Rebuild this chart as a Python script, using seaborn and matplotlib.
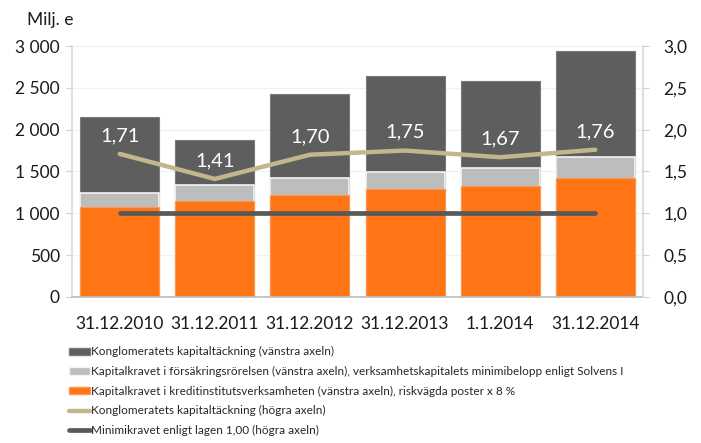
import matplotlib
matplotlib.use("Agg")
import matplotlib.pyplot as plt
import seaborn as sns
import numpy as np
import pandas as pd
from matplotlib.patches import Patch
from matplotlib.lines import Line2D

categories = ["31.12.2010", "31.12.2011", "31.12.2012", "31.12.2013", "1.1.2014", "31.12.2014"]
own_funds = [2150, 1880, 2430, 2640, 2580, 2940]          # Konglomeratets kapitaltäckning
insurance_req = [170, 185, 200, 210, 212, 250]            # Kapitalkravet i försäkringsrörelsen
credit_req = [1075, 1148, 1218, 1286, 1325, 1424]         # Kapitalkravet i kreditinstitutsverksamheten
ratio = [1.71, 1.41, 1.70, 1.75, 1.67, 1.76]
ratio_labels = ["1,71", "1,41", "1,70", "1,75", "1,67", "1,76"]
minimum = [1.0, 1.0, 1.0, 1.0, 1.0, 1.0]
left_ticks = [0, 500, 1000, 1500, 2000, 2500, 3000]
left_tick_labels = ["0", "500", "1 000", "1 500", "2 000", "2 500", "3 000"]
right_ticks = [0.0, 0.5, 1.0, 1.5, 2.0, 2.5, 3.0]
right_tick_labels = ["0,0", "0,5", "1,0", "1,5", "2,0", "2,5", "3,0"]
legend_labels = [
    "Konglomeratets kapitaltäckning (vänstra axeln)",
    "Kapitalkravet i försäkringsrörelsen (vänstra axeln), verksamhetskapitalets minimibelopp enligt Solvens I",
    "Kapitalkravet i kreditinstitutsverksamheten (vänstra axeln), riskvägda poster x 8 %",
    "Konglomeratets kapitaltäckning (högra axeln)",
    "Minimikravet enligt lagen 1,00 (högra axeln)",
]

sns.set_theme(style="white")
plt.rcParams["font.family"] = ["Lato", "DejaVu Sans"]

C_DARK = "#5E5E5E"
C_GREY = "#BDBDBD"
C_ORANGE = "#FF7415"
C_TAN = "#C4B58C"
C_MIN = "#595959"

df = pd.DataFrame({
    "cat": categories,
    "own": own_funds,
    "req_total": np.array(credit_req) + np.array(insurance_req),
    "credit": credit_req,
})

fig = plt.figure(figsize=(7.01, 4.43), dpi=100)
ax = fig.add_axes([0.103, 0.330, 0.814, 0.566])

w = 0.83
sns.barplot(data=df, x="cat", y="own", color=C_DARK, width=w, ax=ax,
            saturation=1, edgecolor="#7a7a7a", linewidth=0.8)
sns.barplot(data=df, x="cat", y="req_total", color=C_GREY, width=w, ax=ax,
            saturation=1, edgecolor="#f4f4f4", linewidth=1.2)
sns.barplot(data=df, x="cat", y="credit", color=C_ORANGE, width=w, ax=ax,
            saturation=1, edgecolor="#f89a55", linewidth=0.8)

ax.set_ylim(0, 3000)
ax.set_xlim(-0.5, len(categories) - 0.5)
ax.set_yticks(left_ticks)
ax.set_yticklabels(left_tick_labels, fontsize=12.5, color="#1a1a1a")
ax.set_xlabel("")
ax.set_ylabel("")
ax.tick_params(axis="x", labelsize=12.5, colors="#1a1a1a", length=0, pad=14)
ax.tick_params(axis="y", length=4, width=0.8, color="#cfcfcf", left=True, pad=5)
ax.yaxis.grid(True, color="#f0f0f0", linewidth=0.8)
ax.set_axisbelow(True)
for s in ["top", "right"]:
    ax.spines[s].set_visible(False)
ax.spines["left"].set_color("#d9d9d9")
ax.spines["bottom"].set_color("#bfbfbf")

ax2 = ax.twinx()
x = np.arange(len(categories))
sns.lineplot(x=x, y=ratio, ax=ax2, color=C_TAN, linewidth=3.2, sort=False)
sns.lineplot(x=x, y=minimum, ax=ax2, color=C_MIN, linewidth=3.4, sort=False,
             solid_capstyle="round")
ax2.set_ylim(0, 3.0)
ax2.set_xlim(-0.5, len(categories) - 0.5)
ax2.set_yticks(right_ticks)
ax2.set_yticklabels(right_tick_labels, fontsize=12.5, color="#1a1a1a")
ax2.tick_params(axis="y", length=4, width=0.8, color="#cfcfcf", right=True, pad=11)
ax2.grid(False)
for s in ["top", "left", "bottom"]:
    ax2.spines[s].set_visible(False)
ax2.spines["right"].set_color("#d9d9d9")

for xi, yi, lab in zip(x, ratio, ratio_labels):
    ax2.annotate(lab, (xi, yi), xytext=(0, 7), textcoords="offset points",
                 ha="center", va="bottom", color="white", fontsize=14.5)

fig.text(0.038, 0.955, "Milj. e", fontsize=12.5, color="#1a1a1a", ha="left", va="center")

handles = [
    Patch(facecolor=C_DARK, edgecolor="#7a7a7a"),
    Patch(facecolor=C_GREY, edgecolor="#f4f4f4"),
    Patch(facecolor=C_ORANGE, edgecolor="#f89a55"),
    Line2D([0], [0], color=C_TAN, linewidth=3.2),
    Line2D([0], [0], color=C_MIN, linewidth=3.4),
]
fig.legend(handles, legend_labels, loc="upper left", bbox_to_anchor=(0.099, 0.218),
           frameon=False, fontsize=8.5, handlelength=1.75, handleheight=0.55,
           labelspacing=0.73, handletextpad=0.1, borderaxespad=0, borderpad=0)

fig.savefig("out.png", dpi=100)
